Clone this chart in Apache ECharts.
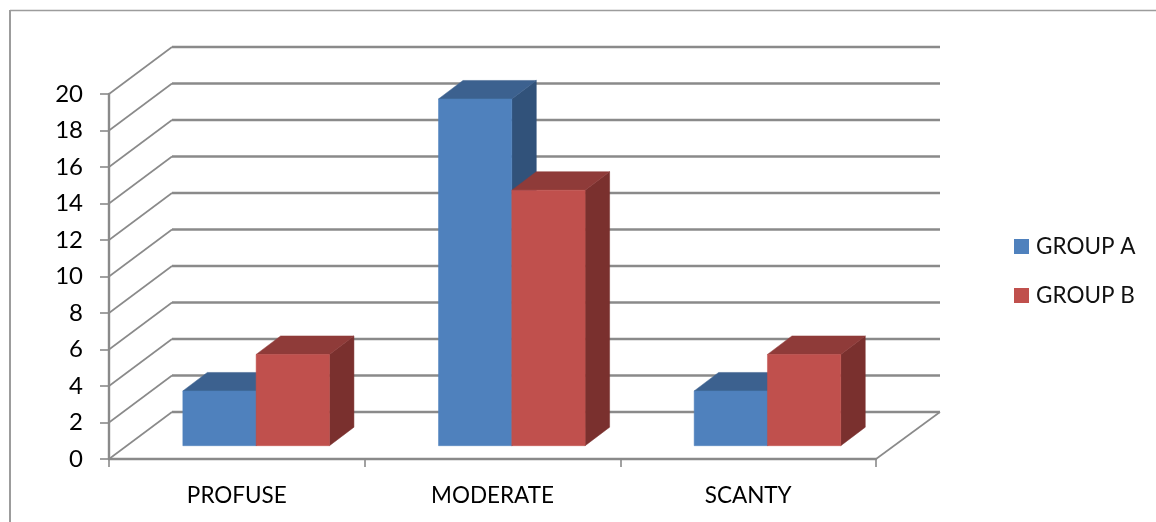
<!DOCTYPE html>
<html>
<head>
<meta charset="utf-8">
<style>html,body{margin:0;padding:0;background:#fff}#chart{width:1156px;height:522px}</style>
<script src="https://cdn.jsdelivr.net/npm/echarts@6/dist/echarts.min.js"></script>
</head>
<body>
<div id="chart"></div>
<script>
const categories = ['PROFUSE', 'MODERATE', 'SCANTY'];
const groupA = [3, 19, 3];
const groupB = [5, 14, 5];
const yTicks = [0, 2, 4, 6, 8, 10, 12, 14, 16, 18, 20];

// Oblique projection of the chart box and of each column
const WALL_DX = 63, WALL_DY = -47;
const BAR_DX = 24.5, BAR_DY = -18.5;
const BAR_SHIFT_X = 19, BAR_SHIFT_Y = -13.3;
const BAR_BAND_SHARE = 0.2867;
const GRID_COLOR = '#8a8a8a';
const FONT = 'Lato, Carlito, sans-serif';

const BLUE = { front: '#4f81bd', top: '#3c618f', side: '#31527a' };
const RED = { front: '#c0504d', top: '#8f3b39', side: '#7a302e' };

function poly(points, fill) {
  return { type: 'polygon', shape: { points }, style: { fill, stroke: fill, lineWidth: 0.5 } };
}

// One column: front face, top and right side. side is -1 for the left column of a pair, 0 for the right.
function columnRenderer(palette, side) {
  return function (params, api) {
    const base = api.coord([api.value(0), 0]);
    const peak = api.coord([api.value(0), api.value(1)]);
    const w = api.size([1, 0])[0] * BAR_BAND_SHARE;
    const x0 = base[0] + BAR_SHIFT_X + side * w + 0.3;
    const x1 = x0 + w;
    const yb = base[1] + BAR_SHIFT_Y;
    const yt = peak[1] + BAR_SHIFT_Y;
    return {
      type: 'group',
      children: [
        poly([[x1, yb], [x1 + BAR_DX, yb + BAR_DY], [x1 + BAR_DX, yt + BAR_DY], [x1, yt]], palette.side),
        poly([[x0, yt], [x1, yt], [x1 + BAR_DX, yt + BAR_DY], [x0 + BAR_DX, yt + BAR_DY]], palette.top),
        poly([[x0, yb], [x1, yb], [x1, yt], [x0, yt]], palette.front)
      ]
    };
  };
}

// Side wall and back wall gridline for one tick value, plus the floor's right edge at zero.
function wallRenderer(params, api) {
  const cs = params.coordSys;
  const p = api.coord([0, api.value(0)]);
  const xl = cs.x, y = p[1];
  const style = { stroke: GRID_COLOR, lineWidth: 1.6, fill: 'none' };
  const back = { stroke: GRID_COLOR, lineWidth: 2.4, fill: 'none' };
  const kids = [
    { type: 'line', shape: { x1: xl, y1: y, x2: xl + WALL_DX, y2: y + WALL_DY }, style },
    { type: 'line', shape: { x1: xl + WALL_DX, y1: y + WALL_DY, x2: xl + cs.width + 64, y2: y + WALL_DY }, style: back }
  ];
  if (api.value(0) === 0) {
    kids.push({ type: 'line', shape: { x1: xl + cs.width, y1: y, x2: xl + cs.width + 64, y2: y + WALL_DY }, style });
  }
  return { type: 'group', children: kids };
}

const chart = echarts.init(document.getElementById('chart'), null, { renderer: 'canvas' });
chart.setOption({
  animation: false,
  backgroundColor: '#ffffff',
  graphic: [
    { type: 'line', shape: { x1: 10, y1: 10.5, x2: 1156, y2: 10.5 }, style: { stroke: '#9c9c9c', lineWidth: 1.5 } },
    { type: 'line', shape: { x1: 10, y1: 10, x2: 10, y2: 522 }, style: { stroke: '#9c9c9c', lineWidth: 2 } }
  ],
  grid: { left: 109, right: 280, top: 94, bottom: 63 },
  legend: {
    data: ['GROUP A', 'GROUP B'],
    orient: 'vertical',
    left: 1014,
    top: 235,
    padding: 0,
    itemWidth: 15,
    itemHeight: 15,
    itemGap: 26,
    icon: 'rect',
    textStyle: { fontFamily: FONT, fontSize: 22.5, color: '#111', padding: [0, 0, 0, 2] }
  },
  xAxis: {
    type: 'category',
    data: categories,
    axisLine: { lineStyle: { color: GRID_COLOR, width: 2.4 } },
    axisTick: { show: true, alignWithLabel: false, length: 8, lineStyle: { color: GRID_COLOR, width: 1.6 } },
    axisLabel: { fontFamily: FONT, fontSize: 22.5, color: '#000', margin: 25 }
  },
  yAxis: {
    type: 'value',
    min: 0,
    max: 20,
    interval: 2,
    axisLine: { show: true, lineStyle: { color: GRID_COLOR, width: 2.4 } },
    axisTick: { show: true, length: 9, lineStyle: { color: GRID_COLOR, width: 1.6 } },
    splitLine: { show: false },
    axisLabel: { fontFamily: FONT, fontSize: 24, color: '#000', margin: 26, padding: [10, 0, 0, 0] }
  },
  series: [
    { type: 'custom', name: 'walls', silent: true, clip: false, z: 1,
      renderItem: wallRenderer, data: yTicks.map(v => [v]), encode: { y: 0 } },
    { type: 'custom', name: 'GROUP A', clip: false, z: 2, itemStyle: { color: BLUE.front },
      renderItem: columnRenderer(BLUE, -1), data: groupA.map((v, i) => [i, v]), encode: { x: 0, y: 1 } },
    { type: 'custom', name: 'GROUP B', clip: false, z: 3, itemStyle: { color: RED.front },
      renderItem: columnRenderer(RED, 0), data: groupB.map((v, i) => [i, v]), encode: { x: 0, y: 1 } }
  ]
});
</script>
</body>
</html>
